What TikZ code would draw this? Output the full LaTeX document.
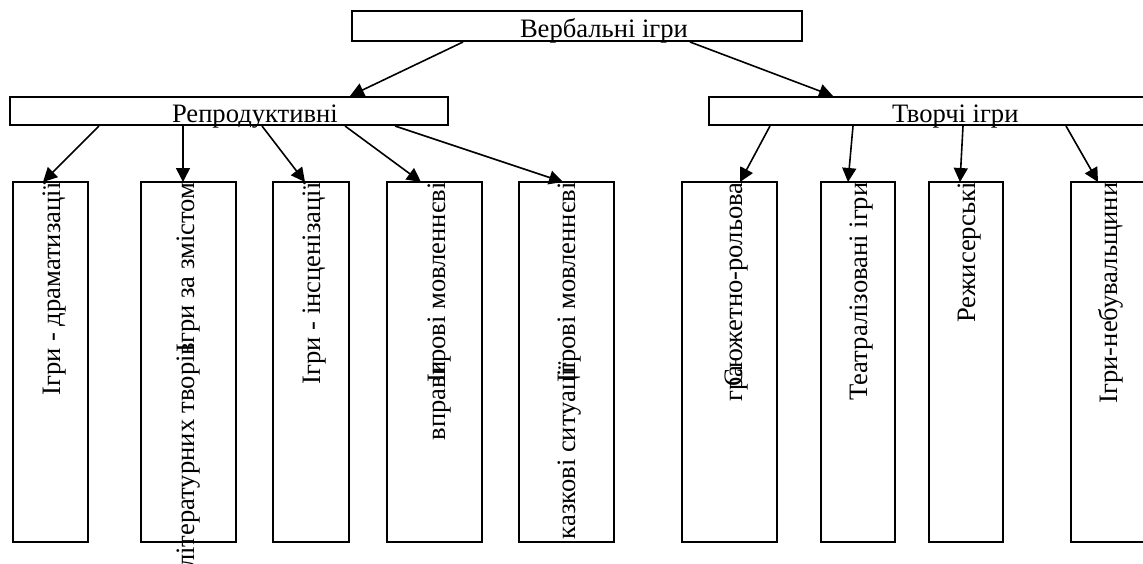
\documentclass[tikz,border=0pt]{standalone}
\usepackage{fontspec}
\setmainfont{Liberation Serif}
\usetikzlibrary{arrows.meta}
\tikzset{
  boxn/.style={draw=black, line width=2pt, rectangle, inner sep=0pt, outer sep=0pt, anchor=north west},
  txt/.style={inner sep=0pt, outer sep=0pt, font=\fontsize{26.6}{32}\selectfont},
  vtxt/.style={txt, rotate=90, anchor=base east},
  arr/.style={line width=1.6pt, -{Triangle[length=14pt,width=14pt]}}
}
\begin{document}
\begin{tikzpicture}[x=1pt,y=-1pt]
\useasboundingbox (0,0) rectangle (1143,563);
\clip (0,0) rectangle (1143,563);
% upper boxes
\node[boxn, minimum width=450pt, minimum height=30pt] (top) at (352,11) {};
\node[boxn, minimum width=438pt, minimum height=28pt] (rep) at (10,97) {};
\node[boxn, minimum width=450pt, minimum height=28pt] (tvo) at (709,97) {};
\node[txt, anchor=base west] (ttop) at (520,37) {Вербальні ігри};
\node[txt, anchor=base west] (trep) at (172,122) {Репродуктивні};
\node[txt, anchor=base west] (ttvo) at (892,122) {Творчі ігри};
% lower boxes
\node[boxn, minimum width=75pt, minimum height=360pt] (b1) at (13,182) {};
\node[boxn, minimum width=95pt, minimum height=360pt] (b2) at (141,182) {};
\node[boxn, minimum width=76pt, minimum height=360pt] (b3) at (273,182) {};
\node[boxn, minimum width=95pt, minimum height=360pt] (b4) at (387,182) {};
\node[boxn, minimum width=95pt, minimum height=360pt] (b5) at (519,182) {};
\node[boxn, minimum width=95pt, minimum height=360pt] (b6) at (682,182) {};
\node[boxn, minimum width=74pt, minimum height=360pt] (b7) at (821,182) {};
\node[boxn, minimum width=74pt, minimum height=360pt] (b8) at (929,182) {};
\node[boxn, minimum width=95pt, minimum height=360pt] (b9) at (1071,182) {};
% vertical texts
\node[vtxt] (v1) at (60.5,182.5) {Ігри - драматизації};
\node[vtxt] (v2a) at (194.5,182.5) {Ігри за змістом};
\node[vtxt] (v2b) at ([yshift=10pt]v2a.base west) {літературних творів};
\node[vtxt] (v3) at (320.5,182.5) {Ігри - інсценізації};
\node[vtxt] (v4a) at (445.5,182.5) {Ігрові мовленнєві};
\node[vtxt] (v4b) at ([yshift=21pt]v4a.base west) {вправи};
\node[vtxt] (v5a) at (575.5,182.5) {Ігрові мовленнєві};
\node[vtxt] (v5b) at ([yshift=21pt]v5a.base west) {казкові ситуації};
\node[vtxt] (v6a) at (742.5,182.5) {Сюжетно-рольова};
\node[vtxt] (v6b) at ([yshift=21pt]v6a.base west) {гра};
\node[vtxt] (v7) at (867.5,182.5) {Театралізовані ігри};
\node[vtxt] (v8) at (975.5,182.5) {Режисерські};
\node[vtxt] (v9) at (1117.5,182.5) {Ігри-небувальщини};
% arrows
\draw[arr] ([xshift=111pt,yshift=-1pt]top.south west) -- ([xshift=340pt,yshift=1pt]rep.north west);
\draw[arr] ([xshift=338pt,yshift=-1pt]top.south west) -- ([xshift=124pt,yshift=1pt]tvo.north west);
\draw[arr] ([xshift=89pt,yshift=-1pt]rep.south west) -- ([xshift=30pt]b1.north west);
\draw[arr] ([xshift=173pt,yshift=-1pt]rep.south west) -- ([xshift=42pt]b2.north west);
\draw[arr] ([xshift=252pt,yshift=-1pt]rep.south west) -- ([xshift=32pt]b3.north west);
\draw[arr] ([xshift=335pt,yshift=-1pt]rep.south west) -- ([xshift=34pt]b4.north west);
\draw[arr] ([xshift=385pt,yshift=-1pt]rep.south west) -- ([xshift=44pt]b5.north west);
\draw[arr] ([xshift=61pt,yshift=-1pt]tvo.south west) -- ([xshift=58pt]b6.north west);
\draw[arr] ([xshift=144pt,yshift=-1pt]tvo.south west) -- ([xshift=27pt]b7.north west);
\draw[arr] ([xshift=254pt,yshift=-1pt]tvo.south west) -- ([xshift=31pt]b8.north west);
\draw[arr] ([xshift=357pt,yshift=-1pt]tvo.south west) -- ([xshift=27pt]b9.north west);
\end{tikzpicture}
\end{document}
